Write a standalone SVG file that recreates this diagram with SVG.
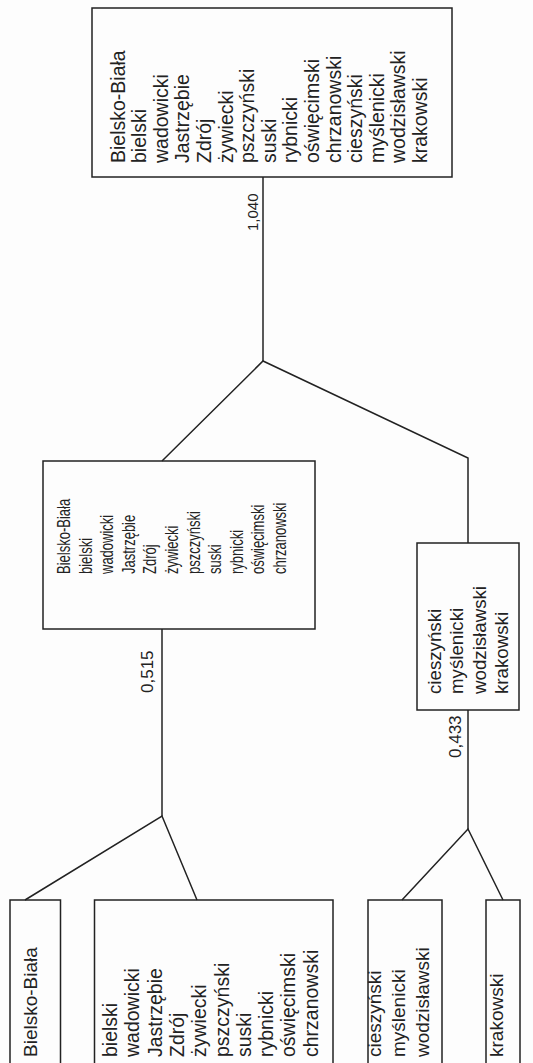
<svg xmlns="http://www.w3.org/2000/svg" width="533" height="1063" viewBox="0 0 533 1063">
<style>
.bx{fill:none;stroke:#222;stroke-width:1.5}
.ln{fill:none;stroke:#222;stroke-width:1.5;stroke-linejoin:miter}
text{font-family:"Liberation Sans",Arial,sans-serif;fill:#222}
.lbl{font-size:17px}
</style>
<rect width="533" height="1063" fill="#fdfdfd"/>
<g id="connectors">
<polyline class="ln" points="263,177 263,361"/>
<polyline class="ln" points="162,461 263,361 468,458 468,543"/>
<polyline class="ln" points="162,629 162,816"/>
<polyline class="ln" points="25,900 162,816 197,900"/>
<polyline class="ln" points="468,710 468,829"/>
<polyline class="ln" points="402,900 468,829 503,900"/>
<text class="lbl" transform="translate(258,231) rotate(-90)" style="font-size:15px">1,040</text>
<text class="lbl" transform="translate(153,693) rotate(-90)">0,515</text>
<text class="lbl" transform="translate(461,758) rotate(-90)">0,433</text>
</g>
<g id="n-all">
<rect class="bx" x="92" y="8" width="360" height="169"/>
<g transform="translate(124.6,163) rotate(-90)" style="font-size:19.5px">
<text x="0" y="0">Bielsko-Biała</text>
<text x="0" y="21.6">bielski</text>
<text x="0" y="43.2">wadowicki</text>
<text x="0" y="64.8">Jastrzębie</text>
<text x="0" y="86.4">Zdrój</text>
<text x="0" y="108">żywiecki</text>
<text x="0" y="129.6">pszczyński</text>
<text x="0" y="151.2">suski</text>
<text x="0" y="172.8">rybnicki</text>
<text x="0" y="194.4">oświęcimski</text>
<text x="0" y="216">chrzanowski</text>
<text x="0" y="237.6">cieszyński</text>
<text x="0" y="259.2">myślenicki</text>
<text x="0" y="280.8">wodzisławski</text>
<text x="0" y="302.4">krakowski</text>
</g>
</g>
<g id="n-west">
<rect class="bx" x="43" y="461" width="272" height="168"/>
<g transform="translate(70,574) scale(1.35,1) rotate(-90)" style="font-size:13px">
<text x="0" y="0">Bielsko-Biała</text>
<text x="0" y="16">bielski</text>
<text x="0" y="32">wadowicki</text>
<text x="0" y="48">Jastrzębie</text>
<text x="0" y="64">Zdrój</text>
<text x="0" y="80">żywiecki</text>
<text x="0" y="96">pszczyński</text>
<text x="0" y="112">suski</text>
<text x="0" y="128">rybnicki</text>
<text x="0" y="144">oświęcimski</text>
<text x="0" y="160">chrzanowski</text>
</g>
</g>
<g id="n-east">
<rect class="bx" x="417" y="543" width="102" height="167"/>
<g transform="translate(441,694) rotate(-90)" style="font-size:18.7px">
<text x="0" y="0">cieszyński</text>
<text x="0" y="22.3">myślenicki</text>
<text x="0" y="44.6">wodzisławski</text>
<text x="0" y="66.9">krakowski</text>
</g>
</g>
<g id="n-bb">
<rect class="bx" x="10" y="900" width="50.5" height="175"/>
<text transform="translate(37,1057) rotate(-90)" style="font-size:19px">Bielsko-Biała</text>
</g>
<g id="n-rest">
<rect class="bx" x="94.5" y="900" width="238.5" height="175"/>
<g transform="translate(117,1057) rotate(-90)" style="font-size:19.5px">
<text x="0" y="0">bielski</text>
<text x="0" y="22.3">wadowicki</text>
<text x="0" y="44.6">Jastrzębie</text>
<text x="0" y="66.9">Zdrój</text>
<text x="0" y="89.2">żywiecki</text>
<text x="0" y="111.5">pszczyński</text>
<text x="0" y="133.8">suski</text>
<text x="0" y="156.1">rybnicki</text>
<text x="0" y="178.4">oświęcimski</text>
<text x="0" y="200.7">chrzanowski</text>
</g>
</g>
<g id="n-cmw">
<rect class="bx" x="368" y="900" width="74" height="175"/>
<g transform="translate(381,1057) rotate(-90)" style="font-size:19px">
<text x="0" y="0">cieszyński</text>
<text x="0" y="24">myślenicki</text>
<text x="0" y="48">wodzisławski</text>
</g>
</g>
<g id="n-krk">
<rect class="bx" x="486" y="900" width="34" height="175"/>
<text transform="translate(503,1057) rotate(-90)" style="font-size:19px">krakowski</text>
</g>
</svg>
